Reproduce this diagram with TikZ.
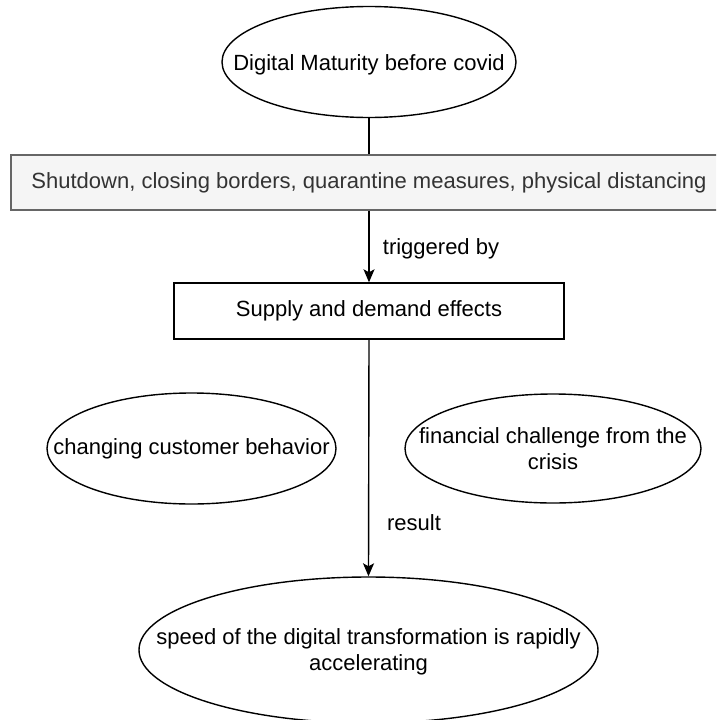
\documentclass[tikz,border=0pt]{standalone}
\usepackage{fontspec}
\setmainfont{Liberation Sans}
\usetikzlibrary{shapes.geometric,arrows.meta}
\definecolor{boxgray}{HTML}{F5F5F5}
\definecolor{edgegray}{HTML}{666666}
\definecolor{txtgray}{HTML}{333333}
\begin{document}
\begin{tikzpicture}[x=1pt,y=1pt,
  every node/.style={font=\fontsize{22}{26.5}\selectfont, align=center, inner sep=0pt},
  oval/.style={ellipse, draw=black, line width=1.4pt, fill=white},
  plainbox/.style={rectangle, draw=black, line width=1.4pt, fill=white},
  graybox/.style={rectangle, draw=edgegray, line width=1.4pt, fill=boxgray, text=txtgray},
  link/.style={draw=black, line width=1.4pt},
  arrowlink/.style={link, -{Stealth[length=13pt,width=11pt,inset=3pt]}},
  lbl/.style={text=black}
]
\useasboundingbox (0,0) rectangle (716,-720);
\clip (0,0) rectangle (716,-720);
\fill[white] (0,0) rectangle (716,-720);

\node[oval, minimum width=294pt, minimum height=111pt] (dm) at (369,-62) {};
\node (dmt) at (369,-65) {Digital Maturity before covid};
\node[graybox, minimum width=716pt, minimum height=55pt] (sd) at (369,-182.5) {Shutdown, closing borders, quarantine measures, physical distancing};
\node[plainbox, minimum width=390pt, minimum height=56pt] (sup) at (369,-311) {Supply and demand effects};
\node[oval, minimum width=289pt, minimum height=111pt] (ccb) at (191.5,-448.5) {};
\node (ccbt) at (ccb.center) {changing customer behavior};
\node[oval, minimum width=296pt, minimum height=109pt] (fin) at (553,-448.5) {};
\node (fint) at (fin.center) {financial challenge from the\\crisis};
\node[oval, minimum width=459pt, minimum height=146pt] (spd) at (368.5,-650) {};
\node (spdt) at (368.5,-652) {speed of the digital transformation is rapidly\\accelerating};

\draw[link] (dm.south) -- (sd.north);
\draw[arrowlink] (sd.south) -- (sup.north);
\draw[arrowlink] (sup.south) -- (spd.north);

\node[lbl] (trig) at (441,-249) {triggered by};
\node[lbl] (res) at (414,-523) {result};
\end{tikzpicture}
\end{document}
